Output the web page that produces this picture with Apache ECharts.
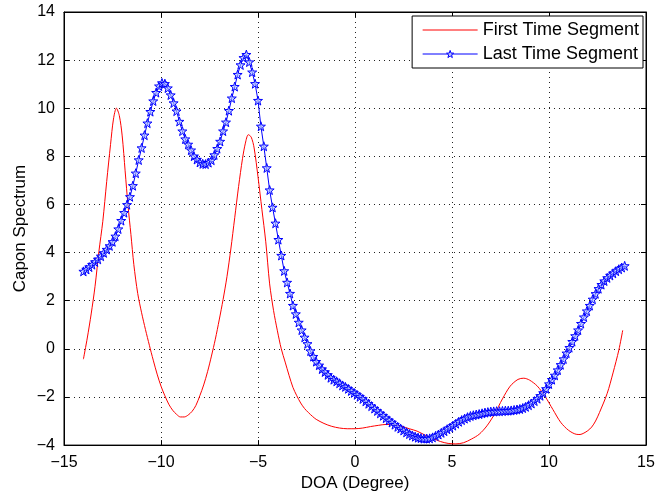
<!DOCTYPE html>
<html>
<head>
<meta charset="utf-8">
<script src="https://cdn.jsdelivr.net/npm/echarts@6/dist/echarts.min.js"></script>
<style>html,body{margin:0;padding:0;background:#fff}#c{width:672px;height:497px}</style>
</head>
<body>
<div id="c"></div>
<script>
// Last Time Segment: DOA grid from -14.0 step 0.15 (to 13.9)
const lastStart = -14.0;
const lastStep = 0.15;
const lastY = [
3.22,3.30,3.40,3.50,3.61,3.72,3.85,3.99,4.13,4.28,
4.45,4.68,4.98,5.33,5.66,5.99,6.32,6.78,7.30,7.85,
8.35,8.88,9.38,9.86,10.30,10.65,10.92,11.05,11.02,10.84,
10.55,10.22,9.88,9.45,9.05,8.72,8.50,8.26,8.01,7.87,
7.75,7.69,7.68,7.74,7.84,8.06,8.32,8.62,9.05,9.42,
9.90,10.42,10.90,11.40,11.80,12.10,12.23,11.92,11.50,11.02,
10.32,9.25,8.42,7.52,6.60,5.88,5.22,4.54,3.88,3.24,
2.76,2.30,1.80,1.45,1.10,0.78,0.48,0.21,-0.09,-0.32,
-0.53,-0.68,-0.84,-0.96,-1.08,-1.20,-1.28,-1.35,-1.43,-1.52,
-1.58,-1.66,-1.75,-1.83,-1.91,-1.99,-2.08,-2.18,-2.28,-2.38,
-2.48,-2.58,-2.68,-2.78,-2.88,-2.97,-3.06,-3.15,-3.24,-3.31,
-3.39,-3.47,-3.54,-3.60,-3.65,-3.69,-3.71,-3.73,-3.73,-3.72,
-3.68,-3.62,-3.56,-3.49,-3.42,-3.34,-3.27,-3.19,-3.11,-3.03,
-2.96,-2.90,-2.84,-2.79,-2.76,-2.73,-2.71,-2.68,-2.65,-2.63,
-2.61,-2.60,-2.59,-2.59,-2.58,-2.57,-2.57,-2.56,-2.54,-2.52,
-2.50,-2.46,-2.41,-2.34,-2.27,-2.17,-2.07,-1.95,-1.83,-1.66,
-1.46,-1.28,-1.10,-0.88,-0.66,-0.42,-0.18,0.05,0.30,0.54,
0.78,1.05,1.32,1.57,1.80,2.06,2.29,2.50,2.67,2.82,
2.95,3.05,3.14,3.23,3.31,3.38,3.45
];
// First Time Segment: sampled DOA and values
const firstX = [
-14.0,-13.8,-13.6,-13.4,-13.2,-13.0,-12.8,-12.6,-12.45,-12.3,
-12.15,-12.0,-11.85,-11.7,-11.55,-11.4,-11.2,-11.0,-10.8,-10.6,
-10.4,-10.2,-10.0,-9.8,-9.6,-9.4,-9.2,-9.0,-8.8,-8.6,
-8.4,-8.2,-8.0,-7.8,-7.6,-7.4,-7.2,-7.0,-6.8,-6.6,
-6.4,-6.2,-6.0,-5.8,-5.65,-5.5,-5.35,-5.2,-5.0,-4.8,
-4.6,-4.4,-4.2,-4.0,-3.8,-3.6,-3.4,-3.2,-3.0,-2.8,
-2.6,-2.4,-2.2,-2.0,-1.6,-1.2,-0.8,-0.4,0.0,0.4,
0.8,1.2,1.6,2.0,2.4,2.8,3.2,3.6,4.0,4.4,
4.8,5.2,5.6,6.0,6.4,6.8,7.2,7.6,8.0,8.4,
8.7,9.0,9.4,9.8,10.2,10.6,11.0,11.4,11.6,11.8,
12.0,12.2,12.4,12.6,13.0,13.3,13.6,13.8
];
const firstY = [
-0.43,0.45,1.45,2.6,4.05,5.3,6.95,8.5,9.55,10.0,
9.7,8.85,7.4,5.95,4.75,3.5,2.3,1.5,0.8,0.15,
-0.47,-1.05,-1.55,-1.95,-2.3,-2.55,-2.72,-2.83,-2.83,-2.75,
-2.6,-2.35,-1.95,-1.5,-0.95,-0.3,0.4,1.2,2.05,3.0,
4.15,5.45,6.75,7.9,8.55,8.9,8.8,8.35,7.15,5.8,
4.45,2.7,1.6,0.75,0.0,-0.55,-1.1,-1.6,-1.95,-2.25,
-2.48,-2.65,-2.8,-2.93,-3.1,-3.22,-3.29,-3.32,-3.32,-3.29,
-3.23,-3.18,-3.14,-3.16,-3.22,-3.32,-3.42,-3.58,-3.72,-3.85,
-3.93,-3.95,-3.9,-3.75,-3.55,-3.2,-2.7,-2.08,-1.55,-1.27,
-1.22,-1.3,-1.55,-1.98,-2.52,-3.05,-3.38,-3.55,-3.56,-3.5,
-3.4,-3.25,-3.0,-2.65,-1.85,-1.0,-0.05,0.77
];
const xTicks = [-15,-10,-5,0,5,10,15];
const yTicks = [-4,-2,0,2,4,6,8,10,12,14];

const lastData = lastY.map((v,i)=>[+(lastStart + i*lastStep).toFixed(2), v]);
const firstData = firstX.map((x,i)=>[x, firstY[i]]);

const star = 'path://M0,-10L2.35,-3.24L9.51,-3.09L3.8,1.24L5.88,8.09L0,4L-5.88,8.09L-3.8,1.24L-9.51,-3.09L-2.35,-3.24Z';
const minus = v => String(v).replace('-', '\u2212');
const font = 'Liberation Sans, Arial, sans-serif';
const gridLine = {show:true, lineStyle:{color:'#222', type:[1,4], width:1}};

const chart = echarts.init(document.getElementById('c'), null, {renderer:'canvas'});
chart.setOption({
  animation:false,
  backgroundColor:'#fff',
  grid:{left:64, right:26, top:12, bottom:48, show:true, borderColor:'#000', borderWidth:1, backgroundColor:'transparent'},
  legend:{
    orient:'vertical', right:29, top:16,
    itemWidth:55, itemHeight:9, itemGap:6,
    padding:[5,4,5,10],
    borderColor:'#000', borderWidth:1, backgroundColor:'#fff',
    textStyle:{fontFamily:font, fontSize:18, color:'#000'},
    data:[
      {name:'First Time Segment', itemStyle:{opacity:0}, lineStyle:{width:1}},
      {name:'Last Time Segment', lineStyle:{width:1},
       itemStyle:{color:'rgba(200,210,255,0.8)', borderColor:'#0000ff', borderWidth:1}}
    ]
  },
  xAxis:[{
    type:'value', min:-15, max:15, interval:5, position:'bottom',
    name:'DOA (Degree)', nameLocation:'middle', nameGap:27,
    nameTextStyle:{fontFamily:font, fontSize:17, color:'#000'},
    axisLine:{show:true, onZero:false, lineStyle:{color:'#000'}},
    axisTick:{show:true, inside:true, length:5, lineStyle:{color:'#000'}},
    axisLabel:{fontFamily:font, fontSize:16, color:'#000', margin:9, formatter:minus},
    splitLine:gridLine
  },{
    type:'value', min:-15, max:15, interval:5, position:'top',
    axisLine:{show:true, onZero:false, lineStyle:{color:'#000'}},
    axisTick:{show:true, inside:true, length:5, lineStyle:{color:'#000'}},
    axisLabel:{show:false}, splitLine:{show:false}
  }],
  yAxis:[{
    type:'value', min:-4, max:14, interval:2, position:'left',
    name:'Capon Spectrum', nameLocation:'middle', nameGap:35, nameRotate:90,
    nameMoveOverlap:false,
    nameTextStyle:{fontFamily:font, fontSize:17, color:'#000'},
    axisLine:{show:true, onZero:false, lineStyle:{color:'#000'}},
    axisTick:{show:true, inside:true, length:5, lineStyle:{color:'#000'}},
    axisLabel:{fontFamily:font, fontSize:16, color:'#000', margin:9, formatter:minus},
    splitLine:gridLine
  },{
    type:'value', min:-4, max:14, interval:2, position:'right',
    axisLine:{show:true, onZero:false, lineStyle:{color:'#000'}},
    axisTick:{show:true, inside:true, length:5, lineStyle:{color:'#000'}},
    axisLabel:{show:false}, splitLine:{show:false}
  }],
  series:[{
    name:'First Time Segment', type:'line', data:firstData,
    smooth:0.3, symbol:'none', showSymbol:false,
    lineStyle:{color:'#ff0000', width:1}, itemStyle:{color:'#ff0000'}
  },{
    name:'Last Time Segment', type:'line', data:lastData,
    smooth:false, symbol:star, symbolSize:9, showAllSymbol:true,
    lineStyle:{color:'#0000ff', width:1},
    itemStyle:{color:'rgba(170,190,255,0.6)', borderColor:'#0000ff', borderWidth:1}
  }]
});
</script>
</body>
</html>
